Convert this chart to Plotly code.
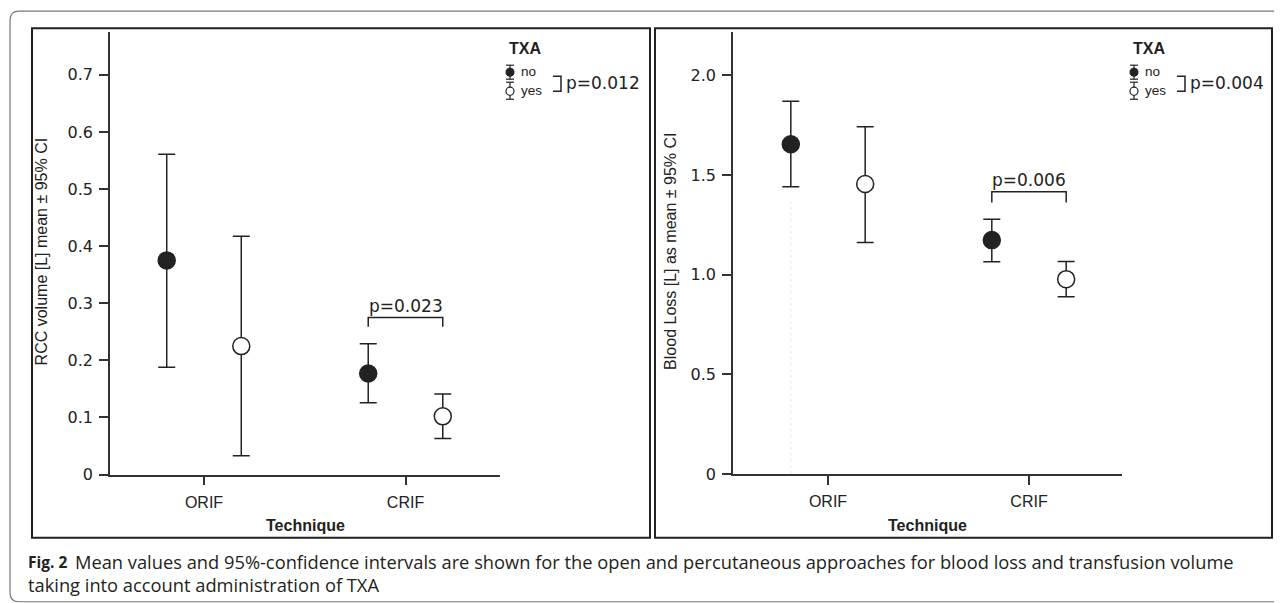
import plotly.graph_objects as go

# ---------------- data ----------------
categories = ["ORIF", "CRIF"]
txa_groups = ["no", "yes"]

rcc_mean_no = [0.375, 0.177]
rcc_low_no = [0.188, 0.126]
rcc_high_no = [0.561, 0.229]
rcc_mean_yes = [0.225, 0.102]
rcc_low_yes = [0.033, 0.063]
rcc_high_yes = [0.4175, 0.141]

bl_mean_no = [1.654, 1.173]
bl_low_no = [1.440, 1.064]
bl_high_no = [1.870, 1.278]
bl_mean_yes = [1.454, 0.977]
bl_low_yes = [1.161, 0.889]
bl_high_yes = [1.742, 1.066]

rcc_ticks = [0, 0.1, 0.2, 0.3, 0.4, 0.5, 0.6, 0.7]
rcc_ticktext = ["0", "0.1", "0.2", "0.3", "0.4", "0.5", "0.6", "0.7"]
bl_ticks = [0, 0.5, 1.0, 1.5, 2.0]
bl_ticktext = ["0", "0.5", "1.0", "1.5", "2.0"]

rcc_pair_p = "p=0.023"      # CRIF no vs yes
rcc_pair_level = 0.275
rcc_overall_p = "p=0.012"
bl_pair_p = "p=0.006"
bl_pair_level = 1.415
bl_overall_p = "p=0.004"

rcc_title = "RCC volume [L] mean ± 95% CI"
bl_title = "Blood Loss [L] as mean ± 95% CI"
x_title = "Technique"
legend_title = "TXA"
caption_bold = "Fig. 2"
caption_1 = "Mean values and 95%-confidence intervals are shown for the open and percutaneous approaches for blood loss and transfusion volume"
caption_2 = "taking into account administration of TXA"

# ---------------- layout helpers ----------------
# page has an 8px body margin; the photographed viewport is slightly taller than the image
OFS = 8
S = 0.9825
W, H = 1274, 606
def px(x):
    return (x - OFS) / W
def py(y):
    return 1 - (y / S - OFS) / H

DARK = "#222222"
AX = "#333333"
OFF = 0.185
idx = list(range(len(categories)))

fig = go.Figure()
annotations = []
shapes = []

def add_series(mean, low, high, xref, yref, filled, name):
    xs = [i - OFF if filled else i + OFF for i in idx]
    fig.add_trace(go.Scatter(
        x=xs, y=mean, mode="markers", name=name, showlegend=False,
        xaxis=xref, yaxis=yref,
        marker=dict(size=17, color=DARK if filled else "white",
                    line=dict(color=DARK, width=1.5)),
        error_y=dict(type="data", symmetric=False,
                     array=[h - m for h, m in zip(high, mean)],
                     arrayminus=[m - l for m, l in zip(mean, low)],
                     thickness=1.5, width=8.5, color=DARK),
    ))

# faint dotted guide in panel 2 (ORIF, no)
fig.add_trace(go.Scatter(
    x=[idx[0] - OFF, idx[0] - OFF], y=[0, bl_low_no[0] - 0.07], mode="lines",
    xaxis="x2", yaxis="y2", showlegend=False, hoverinfo="skip",
    line=dict(color="#e4e4e4", width=1, dash="dot")))

add_series(rcc_mean_no, rcc_low_no, rcc_high_no, "x", "y", True, "no")
add_series(rcc_mean_yes, rcc_low_yes, rcc_high_yes, "x", "y", False, "yes")
add_series(bl_mean_no, bl_low_no, bl_high_no, "x2", "y2", True, "no")
add_series(bl_mean_yes, bl_low_yes, bl_high_yes, "x2", "y2", False, "yes")

# significance brackets (CRIF, no vs yes)
def add_bracket(xref, yref, level, drop, label):
    c = idx[1]
    fig.add_trace(go.Scatter(
        x=[c - OFF, c - OFF, c + OFF, c + OFF],
        y=[level - drop, level, level, level - drop],
        mode="lines", xaxis=xref, yaxis=yref, showlegend=False, hoverinfo="skip",
        line=dict(color=DARK, width=1.5)))
    annotations.append(dict(x=c, y=level, xref=xref, yref=yref, text=label,
                            showarrow=False, yanchor="bottom", yshift=0,
                            font=dict(family="DejaVu Sans", size=17, color=DARK)))

add_bracket("x", "y", rcc_pair_level, 0.016, rcc_pair_p)
add_bracket("x2", "y2", bl_pair_level, 0.054, bl_pair_p)

axis_common = dict(showline=True, linecolor=AX, linewidth=1.5, ticks="outside",
                   ticklen=9, tickwidth=1.5, tickcolor=AX, showgrid=False,
                   zeroline=False, fixedrange=True)

def txt(x, y, text, size, family="Liberation Sans", xanchor="left", bold=False, angle=0, color=DARK):
    annotations.append(dict(xref="paper", yref="paper", x=px(x), y=py(y),
                            text=f"<b>{text}</b>" if bold else text, showarrow=False,
                            xanchor=xanchor, yanchor="middle", textangle=angle,
                            font=dict(family=family, size=size, color=color)))

def pline(x0, y0, x1, y1, width=1.2):
    shapes.append(dict(type="line", xref="paper", yref="paper", x0=px(x0), x1=px(x1),
                       y0=py(y0), y1=py(y1), line=dict(color=DARK, width=width)))

# outer rounded frame
r = 9
fx0, fy0, fy1, fx1 = 10, 11, 601, 1300
path = (f"M {px(fx1)},{py(fy0)} L {px(fx0 + r)},{py(fy0)} Q {px(fx0)},{py(fy0)} {px(fx0)},{py(fy0 + r)} "
        f"L {px(fx0)},{py(fy1 - r)} Q {px(fx0)},{py(fy1)} {px(fx0 + r)},{py(fy1)} L {px(fx1)},{py(fy1)}")
shapes.append(dict(type="path", xref="paper", yref="paper", path=path,
                   line=dict(color="#777777", width=1.2)))
# panel boxes
for (x0, x1) in [(32, 650), (655, 1272)]:
    shapes.append(dict(type="rect", xref="paper", yref="paper",
                       x0=px(x0), x1=px(x1), y0=py(537), y1=py(28),
                       line=dict(color=DARK, width=2)))

# legends
for icon_x, p_text in [(510, rcc_overall_p), (1134, bl_overall_p)]:
    txt(icon_x - 3, 48, legend_title, 16, bold=True)
    # "no" icon
    pline(icon_x, 65, icon_x, 79)
    for yy in (65, 79):
        pline(icon_x - 4, yy, icon_x + 4, yy)
    shapes.append(dict(type="circle", xref="paper", yref="paper", x0=px(icon_x - 4), x1=px(icon_x + 4),
                       y0=py(76), y1=py(68), fillcolor=DARK, line=dict(color=DARK, width=1)))
    # "yes" icon
    pline(icon_x, 82, icon_x, 99)
    for yy in (82, 99):
        pline(icon_x - 4, yy, icon_x + 4, yy)
    shapes.append(dict(type="circle", xref="paper", yref="paper", x0=px(icon_x - 4), x1=px(icon_x + 4),
                       y0=py(95), y1=py(87), fillcolor="white", line=dict(color=DARK, width=1.2)))
    txt(icon_x + 9, 71, txa_groups[0], 13.5)
    txt(icon_x + 9, 90, txa_groups[1], 13.5)
    # bracket
    bx0, bx1 = icon_x + 43, icon_x + 51
    shapes.append(dict(type="path", xref="paper", yref="paper",
                       path=f"M {px(bx0)},{py(76)} L {px(bx1)},{py(76)} L {px(bx1)},{py(91)} L {px(bx0)},{py(91)}",
                       line=dict(color=DARK, width=1.5)))
    txt(icon_x + 54, 83, p_text, 17, family="DejaVu Sans")

# axis titles
txt(41, 251, rcc_title, 16, xanchor="center", angle=-90)
txt(671, 251.5, bl_title, 16, xanchor="center", angle=-90)
txt(305, 525, x_title, 16, xanchor="center", bold=True)
txt(927.5, 525, x_title, 16, xanchor="center", bold=True)

# caption
txt(26, 561, caption_bold, 15.5, family="Open Sans", bold=True, color="#231f20")
txt(73, 561, caption_1, 18.3, family="Open Sans", color="#231f20")
txt(26, 584, caption_2, 18.3, family="Open Sans", color="#231f20")

fig.update_layout(
    width=W, height=H, margin=dict(l=0, r=0, t=0, b=0),
    paper_bgcolor="white", plot_bgcolor="white", showlegend=False,
    xaxis=dict(domain=[px(110), px(500)], range=[-0.4665, 1.469], anchor="y",
               tickvals=idx, ticktext=categories, ticklabelstandoff=3,
               tickfont=dict(family="Liberation Sans", size=16, color=DARK), **axis_common),
    yaxis=dict(domain=[py(474), py(32)], range=[0, 0.7746], anchor="x",
               tickvals=rcc_ticks, ticktext=rcc_ticktext, ticklabelstandoff=3,
               tickfont=dict(family="DejaVu Sans", size=16, color=DARK), **axis_common),
    xaxis2=dict(domain=[px(733), px(1122)], range=[-0.4726, 1.4627], anchor="y2",
                tickvals=idx, ticktext=categories, ticklabelstandoff=3,
                tickfont=dict(family="Liberation Sans", size=16, color=DARK), **axis_common),
    yaxis2=dict(domain=[py(473.3), py(32)], range=[0, 2.216], anchor="x2",
                tickvals=bl_ticks, ticktext=bl_ticktext, ticklabelstandoff=3,
                tickfont=dict(family="DejaVu Sans", size=16, color=DARK), **axis_common),
    shapes=shapes,
    annotations=annotations,
)

fig.write_html("out.html")
